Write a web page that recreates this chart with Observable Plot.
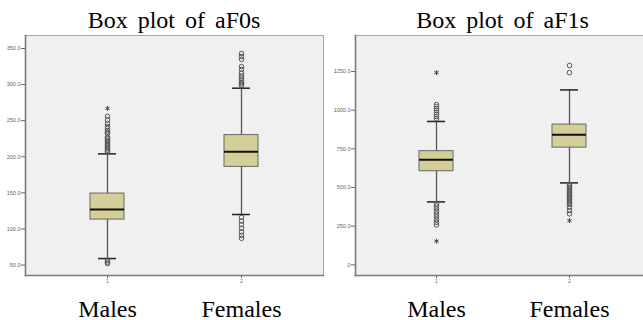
<!DOCTYPE html>
<html>
<head>
<meta charset="utf-8">
<script src="https://cdn.jsdelivr.net/npm/d3@7"></script>
<script src="https://cdn.jsdelivr.net/npm/@observablehq/plot@0.6"></script>
<style>
  html, body { margin: 0; padding: 0; background: #fff; }
  body { width: 643px; height: 320px; overflow: hidden; position: relative; }
  .panel { position: absolute; top: 0; width: 325px; }
  .title { box-sizing: border-box; height: 34px; padding-top: 7px; line-height: 27px;
           font-family: "Liberation Serif", "DejaVu Serif", serif; font-size: 24px;
           word-spacing: 4px; text-align: center; color: #000; white-space: nowrap; }
  svg { display: block; overflow: visible; }
</style>
</head>
<body>
<div class="panel" id="p0" style="left:0px"><div class="title" style="padding-left:25px;padding-right:2px">Box plot of aF0s</div></div>
<div class="panel" id="p1" style="left:325px"><div class="title" style="padding-left:30px;padding-right:0px">Box plot of aF1s</div></div>
<script>
// ---- data ----
const categories = ["1", "2"];
const groupNames = ["Males", "Females"];

// aF0s
const f0Q1 = [113, 186];
const f0Median = [127, 207];
const f0Q3 = [149, 230];
const f0WhiskerLow = [59, 120];
const f0WhiskerHigh = [204, 295];
const f0OutliersMales = [52, 54, 56, 207, 209, 211, 213, 215, 217, 219, 221, 223, 225, 227, 232, 234, 236, 239, 242, 246, 251, 256];
const f0OutliersFemales = [87, 91, 96, 101, 106, 111, 116, 299, 301, 303, 306, 309, 312, 316, 321, 325, 335, 339, 343];
const f0ExtremesMales = [267];
const f0ExtremesFemales = [];
const f0Ticks = [50, 100, 150, 200, 250, 300, 350];
const f0TickLabels = ["50.0", "100.0", "150.0", "200.0", "250.0", "300.0", "350.0"];

// aF1s
const f1Q1 = [605, 758];
const f1Median = [679, 841];
const f1Q3 = [735, 907];
const f1WhiskerLow = [407, 530];
const f1WhiskerHigh = [927, 1131];
const f1OutliersMales = [258, 275, 292, 310, 328, 345, 362, 380, 394, 944, 959, 972, 985, 998, 1010, 1023, 1036];
const f1OutliersFemales = [330, 351, 372, 390, 400, 410, 420, 430, 440, 450, 460, 470, 480, 490, 500, 510, 520, 1243, 1289];
const f1ExtremesMales = [153, 1243];
const f1ExtremesFemales = [286];
const f1Ticks = [0, 250, 500, 750, 1000, 1250];
const f1TickLabels = [".0", "250.0", "500.0", "750.0", "1000.0", "1250.0"];

function makePanel(cfg) {
  const boxes = categories.map((c, i) => ({
    cat: c, q1: cfg.q1[i], med: cfg.med[i], q3: cfg.q3[i], lo: cfg.lo[i], hi: cfg.hi[i]
  }));
  const outliers = [
    ...cfg.out[0].map(v => ({cat: categories[0], v})),
    ...cfg.out[1].map(v => ({cat: categories[1], v}))
  ];
  const extremes = [
    ...cfg.ext[0].map(v => ({cat: categories[0], v})),
    ...cfg.ext[1].map(v => ({cat: categories[1], v}))
  ];
  return Plot.plot({
    width: 325,
    height: 286,
    marginTop: 1,
    marginBottom: 45,
    marginLeft: cfg.marginLeft,
    marginRight: cfg.marginRight,
    style: {fontFamily: "Liberation Sans, Arial, sans-serif", background: "transparent", overflow: "visible"},
    x: {type: "band", domain: categories, paddingInner: 0.748, paddingOuter: 0.478, axis: null},
    y: {domain: cfg.domain, axis: null},
    marks: [
      Plot.frame({fill: "#f0f0f0", stroke: "#a8a8a8", strokeWidth: 1}),
      Plot.ruleX(boxes, {x: "cat", y1: "lo", y2: "hi", stroke: "#555", strokeWidth: 1.3}),
      Plot.barY(boxes, {x: "cat", y1: "q1", y2: "q3", fill: "#d4cf98", stroke: "#666", strokeWidth: 1}),
      Plot.tickY(boxes, {x: "cat", y: "med", stroke: "#111", strokeWidth: 2}),
      Plot.tickY(boxes, {x: "cat", y: "lo", insetLeft: 8, insetRight: 8, stroke: "#222", strokeWidth: 1.5}),
      Plot.tickY(boxes, {x: "cat", y: "hi", insetLeft: 8, insetRight: 8, stroke: "#222", strokeWidth: 1.5}),
      Plot.dot(outliers, {x: "cat", y: "v", r: 2.3, stroke: "#555", strokeWidth: 1, fill: "none"}),
      Plot.dot(extremes, {x: "cat", y: "v", symbol: "asterisk", r: 2.3, stroke: "#444", strokeWidth: 1}),
      Plot.frame({anchor: "left", stroke: "#7a7a7a", strokeWidth: 1.6}),
      Plot.frame({anchor: "bottom", stroke: "#7a7a7a", strokeWidth: 1.6}),
      Plot.axisY({ticks: cfg.ticks, tickFormat: d => cfg.tickLabels[cfg.ticks.indexOf(d)], label: null,
                  tickSize: 4, tickPadding: 1, fontSize: 5.5, color: "#666"}),
      Plot.axisX({tickSize: 3, tickPadding: 1, fontSize: 5, color: "#666", label: null, tickFormat: d => d}),
      Plot.axisX({tickSize: 0, tickPadding: 24, fontSize: 24, fill: "#000", label: null,
                  fontFamily: "Liberation Serif, DejaVu Serif, serif",
                  tickFormat: d => groupNames[categories.indexOf(d)]})
    ]
  });
}

document.getElementById("p0").appendChild(makePanel({
  q1: f0Q1, med: f0Median, q3: f0Q3, lo: f0WhiskerLow, hi: f0WhiskerHigh,
  out: [f0OutliersMales, f0OutliersFemales], ext: [f0ExtremesMales, f0ExtremesFemales],
  domain: [35.5, 368], ticks: f0Ticks, tickLabels: f0TickLabels,
  marginLeft: 25, marginRight: 2
}));
document.getElementById("p1").appendChild(makePanel({
  q1: f1Q1, med: f1Median, q3: f1Q3, lo: f1WhiskerLow, hi: f1WhiskerHigh,
  out: [f1OutliersMales, f1OutliersFemales], ext: [f1ExtremesMales, f1ExtremesFemales],
  domain: [-69, 1483], ticks: f1Ticks, tickLabels: f1TickLabels,
  marginLeft: 30, marginRight: 0
}));
</script>
</body>
</html>
